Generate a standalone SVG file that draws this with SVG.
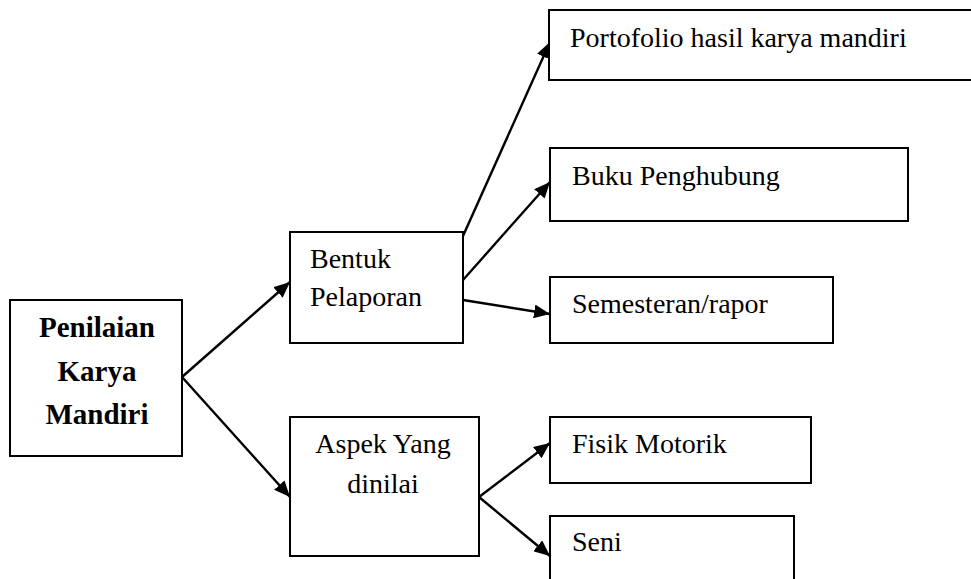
<svg xmlns="http://www.w3.org/2000/svg" width="971" height="579" viewBox="0 0 971 579">
<style>
.box{fill:#fff;stroke:#000;stroke-width:2}
.t{font-family:"Liberation Serif","Times New Roman",serif;font-size:28px;fill:#000}
.b{font-weight:bold;font-size:29px}
.c{stroke:#000;stroke-width:2.4;fill:none;marker-end:url(#ah)}
</style>
<defs>
<marker id="ah" markerUnits="userSpaceOnUse" markerWidth="18" markerHeight="14" refX="16" refY="7" orient="auto">
<path d="M0,0 L16,7 L0,14 Z" fill="#000"/>
</marker>
</defs>
<rect width="971" height="579" fill="#fff"/>
<g id="connectors">
<line class="c" x1="182" y1="377" x2="290" y2="282"/>
<line class="c" x1="182" y1="377" x2="290" y2="497"/>
<line class="c" x1="463" y1="236" x2="550" y2="42"/>
<line class="c" x1="463" y1="280" x2="550" y2="182"/>
<line class="c" x1="463" y1="300" x2="550" y2="314"/>
<line class="c" x1="479" y1="497" x2="550" y2="443"/>
<line class="c" x1="479" y1="497" x2="550" y2="556"/>
</g>
<g id="n-main">
<rect class="box" x="10" y="300" width="172" height="156"/>
<text class="t b" x="97" y="337" text-anchor="middle">Penilaian</text>
<text class="t b" x="97" y="381" text-anchor="middle">Karya</text>
<text class="t b" x="97" y="424" text-anchor="middle">Mandiri</text>
</g>
<g id="n-bentuk">
<rect class="box" x="290" y="232" width="173" height="111"/>
<text class="t" x="310" y="268">Bentuk</text>
<text class="t" x="310" y="306">Pelaporan</text>
</g>
<g id="n-aspek">
<rect class="box" x="290" y="417" width="189" height="139"/>
<text class="t" x="383" y="453" text-anchor="middle">Aspek Yang</text>
<text class="t" x="383" y="493" text-anchor="middle">dinilai</text>
</g>
<g id="n-portofolio">
<rect class="box" x="549" y="10" width="430" height="70"/>
<text class="t" x="570" y="47">Portofolio hasil karya mandiri</text>
</g>
<g id="n-buku">
<rect class="box" x="550" y="148" width="358" height="73"/>
<text class="t" x="572" y="185">Buku Penghubung</text>
</g>
<g id="n-semesteran">
<rect class="box" x="550" y="277" width="283" height="66"/>
<text class="t" x="572" y="313">Semesteran/rapor</text>
</g>
<g id="n-fisik">
<rect class="box" x="550" y="417" width="261" height="66"/>
<text class="t" x="572" y="453">Fisik Motorik</text>
</g>
<g id="n-seni">
<rect class="box" x="550" y="516" width="244" height="80"/>
<text class="t" x="572" y="551">Seni</text>
</g>
</svg>
